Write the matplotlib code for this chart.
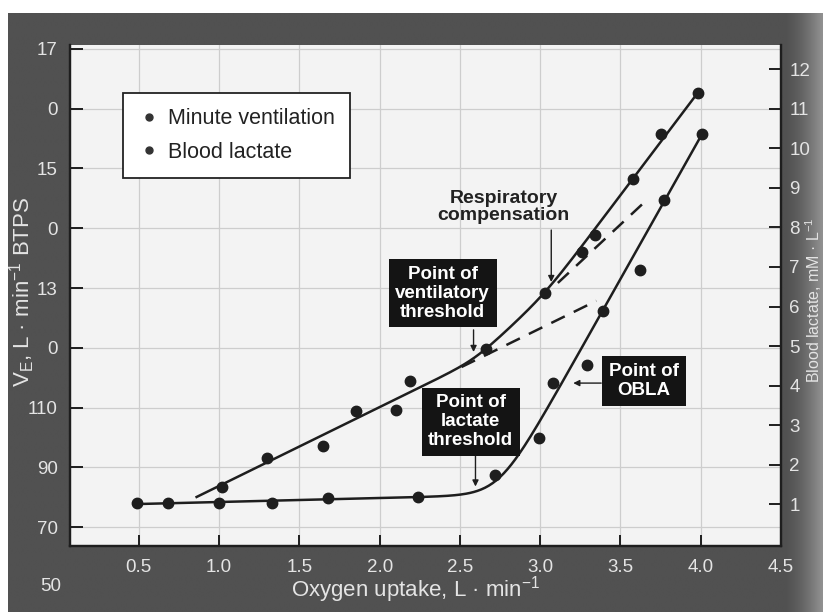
import numpy as np
import matplotlib
matplotlib.use("Agg")
import matplotlib.pyplot as plt
from matplotlib.lines import Line2D

plt.rcParams['font.family'] = ['Liberation Sans', 'DejaVu Sans']
plt.rcParams['mathtext.fontset'] = 'custom'
plt.rcParams['mathtext.rm'] = 'Liberation Sans'
plt.rcParams['mathtext.it'] = 'Liberation Sans:italic'
plt.rcParams['mathtext.bf'] = 'Liberation Sans:bold'

# ---- data -------------------------------------------------------------
# Minute ventilation (L/min BTPS) against oxygen uptake (L/min)
ve_vo2 = [1.02, 1.30, 1.65, 1.85, 2.10, 2.19, 2.66, 3.03, 3.26, 3.34, 3.58, 3.75, 3.98]
ve_vals = [83.4, 93.2, 97.2, 108.8, 109.2, 118.8, 129.6, 148.4, 162.0, 167.8, 186.4, 201.6, 215.2]

# Blood lactate (mM/L) against oxygen uptake (L/min)
la_vo2 = [0.49, 0.68, 1.00, 1.33, 1.68, 2.24, 2.72, 2.99, 3.08, 3.29, 3.39, 3.62, 3.77, 4.01]
la_vals = [1.03, 1.03, 1.03, 1.03, 1.15, 1.18, 1.73, 2.67, 4.06, 4.52, 5.89, 6.92, 8.70, 10.37]

# Piecewise-linear fits (anchor x, anchor y, slope) for each phase
ve_seg_x0 = [0.86, 3.11, 3.98]
ve_seg_y0 = [80.1, 151.7, 215.2]
ve_seg_slope = [26.35, 50.1, 71.1]
ve_fit_range = [0.86, 3.98]

la_seg_x0 = [0.50, 3.858]
la_seg_y0 = [1.00, 9.28]
la_seg_slope = [0.10, 7.22]
la_fit_range = [0.49, 4.01]

# Extrapolated phases shown dashed (segment index, start, end)
ve_ext_seg = [0, 1]
ve_ext_start = [2.51, 3.11]
ve_ext_end = [3.35, 3.65]

# Axis ticks and labels
x_ticks = [0.5, 1.0, 1.5, 2.0, 2.5, 3.0, 3.5, 4.0, 4.5]
x_labels = ["0.5", "1.0", "1.5", "2.0", "2.5", "3.0", "3.5", "4.0", "4.5"]
ve_ticks = [70, 90, 110, 130, 150, 170, 190, 210, 230]
ve_labels = ["70", "90", "110", "0", "13", "0", "15", "0", "17"]
ve_bottom_label = "50"
la_ticks = [1, 2, 3, 4, 5, 6, 7, 8, 9, 10, 11, 12]
la_labels = [str(t) for t in la_ticks]


def seg_line(x, i, x0, y0, slope):
    return y0[i] + slope[i] * (np.asarray(x) - x0[i])


def smooth_fit(x, x0, y0, slope, k):
    lines = np.array([seg_line(x, i, x0, y0, slope) for i in range(len(x0))])
    return k * np.logaddexp.reduce(lines / k, axis=0)


# ---- figure -----------------------------------------------------------
W, H = 823, 612
fig = plt.figure(figsize=(W / 100, H / 100), dpi=100, facecolor="white")

# scanned page border: dark grey, lighter towards the right edge
bg = fig.add_axes([8 / W, 0, 1 - 8 / W, 1 - 13 / H], zorder=-5)
gx = np.linspace(0, 1, 400)
shade = 0.32 + 0.25 * np.clip((gx - 0.955) / 0.045, 0, 1) ** 1.5
bg.imshow(np.tile(shade, (10, 1)), cmap="gray", vmin=0, vmax=1,
          aspect="auto", extent=[0, 1, 0, 1], interpolation="bilinear")
bg.set_axis_off()

L, R, T, B = 70, 781, 45, 546
ax = fig.add_axes([L / W, 1 - B / H, (R - L) / W, (B - T) / H])
ax.set_facecolor("#f3f3f3")
ax.set_xlim(0.0714, 4.5)
ax.set_ylim(63.7, 231.3)

ax2 = ax.twinx()
ax2.set_ylim(-0.063, 12.62)

txt_col = "#e4e4e4"
dark = "#1e1e1e"

ax.set_xticks(x_ticks)
ax.set_xticklabels(x_labels)
ax.set_yticks(ve_ticks)
ax.set_yticklabels(ve_labels)
ax2.set_yticks(la_ticks)
ax2.set_yticklabels(la_labels)

ax.tick_params(axis="x", direction="in", length=8, width=1.4, color=dark,
               labelcolor=txt_col, labelsize=13.5, pad=9)
ax.tick_params(axis="y", direction="in", length=9, width=1.4, color=dark,
               labelcolor=txt_col, labelsize=13.5, pad=9)
ax2.tick_params(axis="y", direction="in", length=9, width=1.4, color=dark,
                labelcolor=txt_col, labelsize=13.5, pad=6)

for a in (ax, ax2):
    a.spines["top"].set_visible(False)
    for s in ("left", "right", "bottom"):
        a.spines[s].set_linewidth(1.6)
        a.spines[s].set_color(dark)

ax.grid(True, color="#cdcdcd", linewidth=0.9)
ax.set_axisbelow(True)

# bottom label of the ventilation scale sits below the frame
ax.text(-9 / (R - L), 50, ve_bottom_label, transform=ax.get_yaxis_transform(),
        ha="right", va="center", color=txt_col, fontsize=13.5, clip_on=False)

# ---- fitted curves ----------------------------------------------------
xv = np.linspace(ve_fit_range[0], ve_fit_range[1], 300)
ax.plot(xv, smooth_fit(xv, ve_seg_x0, ve_seg_y0, ve_seg_slope, 1.5),
        color=dark, lw=1.8, zorder=3)
for seg, xs, xe in zip(ve_ext_seg, ve_ext_start, ve_ext_end):
    xx = np.array([xs, xe])
    ax.plot(xx, seg_line(xx, seg, ve_seg_x0, ve_seg_y0, ve_seg_slope),
            color=dark, lw=1.8, ls=(0, (6, 4)), zorder=3)

xl = np.linspace(la_fit_range[0], la_fit_range[1], 300)
ax2.plot(xl, smooth_fit(xl, la_seg_x0, la_seg_y0, la_seg_slope, 0.62),
         color=dark, lw=1.8, zorder=3)

# ---- data points ------------------------------------------------------
ax.plot(ve_vo2, ve_vals, "o", color=dark, ms=7.5, zorder=4)
ax2.plot(la_vo2, la_vals, "o", color=dark, ms=7.5, zorder=4)

# ---- legend -----------------------------------------------------------
handles = [Line2D([], [], marker="o", ls="none", color="#333333", ms=5),
           Line2D([], [], marker="o", ls="none", color="#333333", ms=5)]
leg = ax2.legend(handles, ["Minute ventilation", "Blood lactate"],
                 loc="upper left", bbox_to_anchor=(53 / (R - L), 1 - 48 / (B - T)),
                 borderaxespad=0, frameon=True, fancybox=False, fontsize=15.5,
                 handletextpad=0.4, handlelength=1.0, labelspacing=0.6,
                 borderpad=0.7)
leg.get_frame().set_edgecolor("#222222")
leg.get_frame().set_linewidth(1.3)
leg.get_frame().set_facecolor("white")
leg.get_frame().set_alpha(1)
for t in leg.get_texts():
    t.set_color("#222222")

# ---- annotations ------------------------------------------------------
box = dict(boxstyle="square,pad=0.35", fc="#141414", ec="none")
arrow = dict(arrowstyle="-|>", color=dark, lw=1.0, mutation_scale=9,
             shrinkA=0, shrinkB=0)
kw = dict(ha="center", va="center", color="white", fontsize=13.5,
          fontweight="bold", linespacing=1.15, bbox=box, zorder=6,
          transform=ax.transData)

ax2.text(2.393, 148.3, "Point of\nventilatory\nthreshold", **kw)
ax2.annotate("", xy=(2.585, 128.6), xytext=(2.585, 136.0),
             xycoords=ax.transData, textcoords=ax.transData, arrowprops=arrow)

ax2.text(2.567, 105.2, "Point of\nlactate\nthreshold", **kw)
ax2.annotate("", xy=(2.597, 83.6), xytext=(2.597, 94.0),
             xycoords=ax.transData, textcoords=ax.transData, arrowprops=arrow)

ax2.text(3.647, 118.9, "Point of\nOBLA", **kw)
ax2.annotate("", xy=(3.206, 118.2), xytext=(3.38, 118.2),
             xycoords=ax.transData, textcoords=ax.transData, arrowprops=arrow)

ax2.text(2.771, 177.1, "Respiratory\ncompensation", ha="center", va="center",
         color="#222222", fontsize=14, fontweight="bold", linespacing=1.05,
         transform=ax.transData, zorder=6)
ax2.annotate("", xy=(3.069, 152.0), xytext=(3.069, 169.4),
             xycoords=ax.transData, textcoords=ax.transData, arrowprops=arrow)

# ---- axis titles ------------------------------------------------------
fig.text(416 / W, 1 - 590 / H, r"Oxygen uptake, L · min$^{-1}$", ha="center",
         va="center", color=txt_col, fontsize=16)
fig.text(22 / W, 1 - 292 / H, r"V$_{\mathrm{E}}$, L · min$^{-1}$ BTPS",
         rotation=90, ha="center", va="center", color=txt_col, fontsize=16)
fig.text(814 / W, 1 - 300 / H, r"Blood lactate, mM · L$^{-1}$",
         rotation=90, ha="center", va="center", color=txt_col, fontsize=11.5)

fig.savefig("out.png", dpi=100, facecolor=fig.get_facecolor())
